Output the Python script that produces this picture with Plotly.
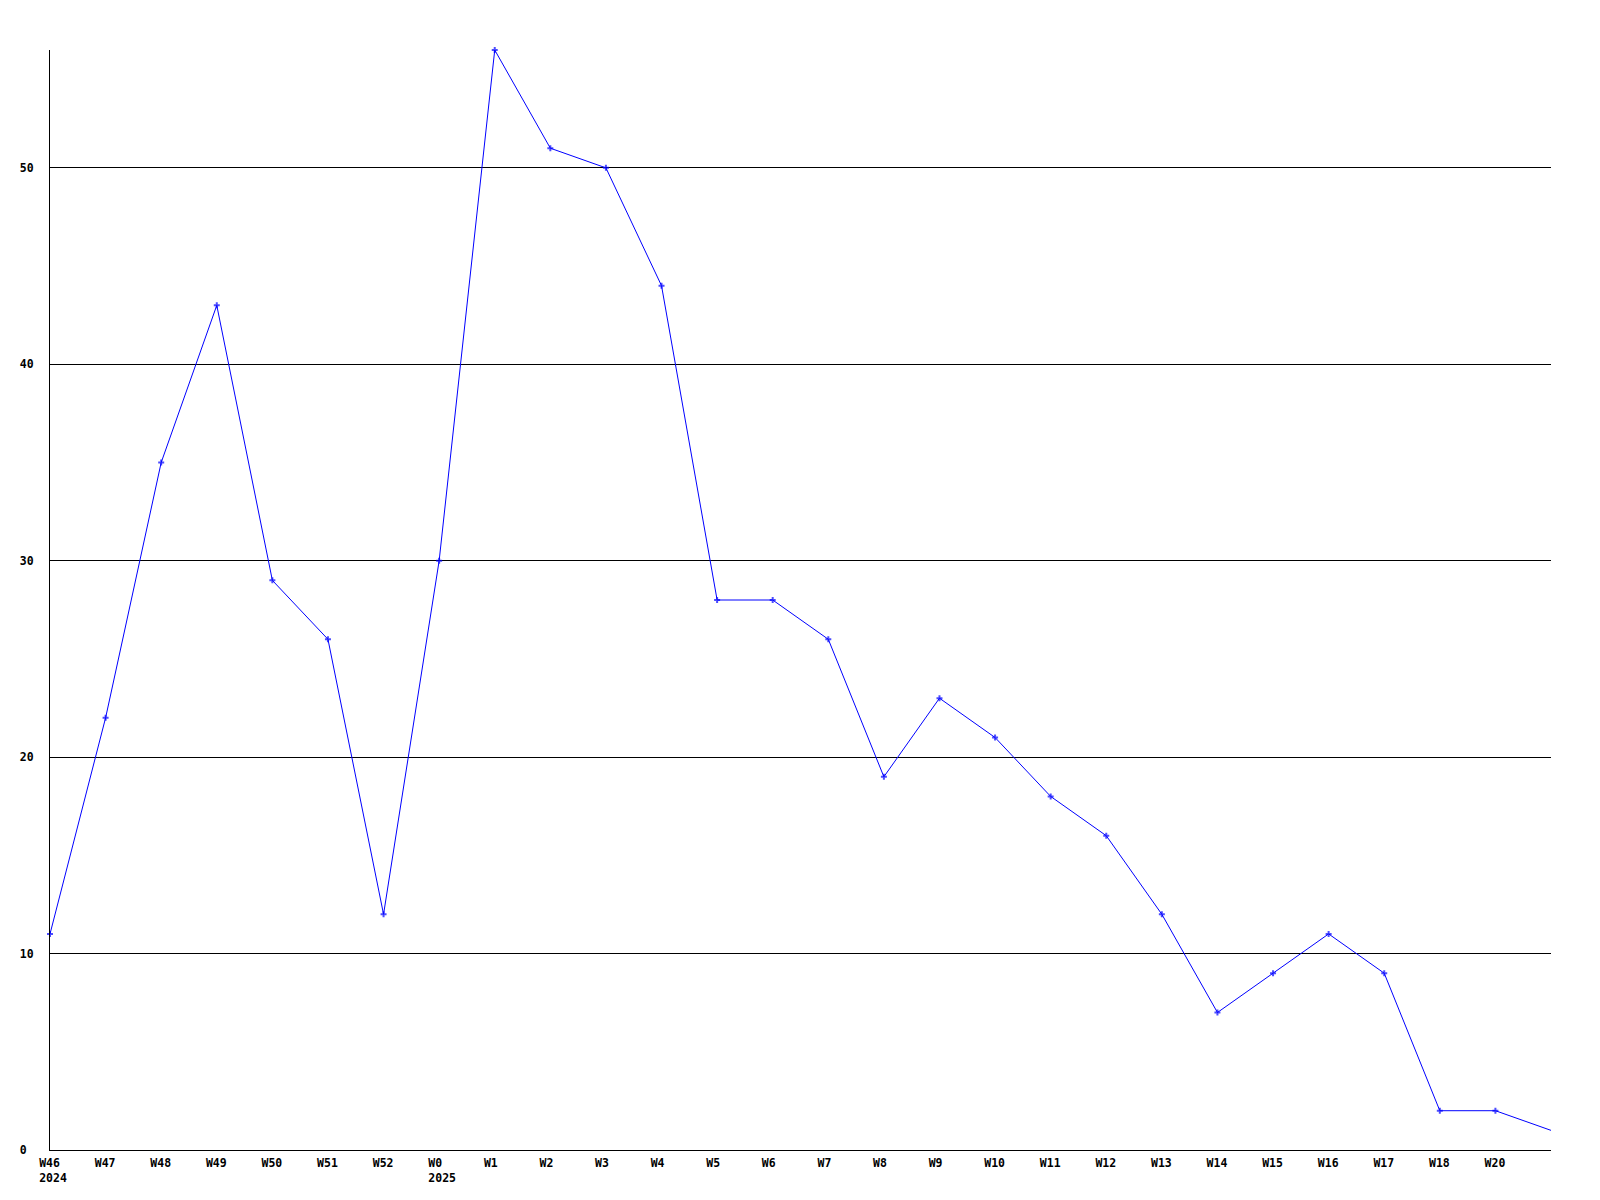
import plotly.graph_objects as go

weeks = ["W46", "W47", "W48", "W49", "W50", "W51", "W52", "W0", "W1", "W2",
         "W3", "W4", "W5", "W6", "W7", "W8", "W9", "W10", "W11", "W12",
         "W13", "W14", "W15", "W16", "W17", "W18", "W20", ""]
years = {0: "2024", 7: "2025"}
values = [11, 22, 35, 43, 29, 26, 12, 30, 56, 51,
          50, 44, 28, 28, 26, 19, 23, 21, 18, 16,
          12, 7, 9, 11, 9, 2, 2, 1]
y_ticks = [0, 10, 20, 30, 40, 50]

xs = list(range(len(values)))
NB = "\u00a0"

def pad(s, n=4):
    return s + NB * max(0, n - len(s))

def xlabel(i, w):
    if i in years:
        return pad(w) + "<br>" + pad(years[i])
    return pad(w)

ticktext = [xlabel(i, w) for i, w in enumerate(weeks)]
ytext = [pad(str(v), 2) for v in y_ticks]

# last point is drawn without a marker in the reference
msizes = [5] * (len(values) - 1) + [0]

fig = go.Figure()
fig.add_trace(go.Scatter(
    x=xs, y=values, mode="lines+markers",
    line=dict(color="#0000ff", width=1),
    marker=dict(symbol="cross", size=msizes, color="#0000ff", line=dict(width=0)),
    cliponaxis=False, showlegend=False, hoverinfo="skip"))

font = dict(family="DejaVu Sans Mono", size=11.5, color="black", weight="bold")

fig.update_layout(
    width=1600, height=1200,
    margin=dict(l=50, r=49, t=50, b=50),
    paper_bgcolor="white", plot_bgcolor="white",
    font=font,
    xaxis=dict(
        range=[0, len(values) - 1], tickmode="array", tickvals=xs,
        ticktext=ticktext, showgrid=False, zeroline=False,
        showline=True, linecolor="black", linewidth=1, ticks="",
        tickfont=font, tickangle=0, ticklabelshift=3, ticklabelstandoff=2,
    ),
    yaxis=dict(
        range=[0, 56], tickmode="array", tickvals=y_ticks, ticktext=ytext,
        showgrid=True, gridcolor="black", gridwidth=1, zeroline=False,
        showline=True, linecolor="black", linewidth=1, ticks="",
        tickfont=font, ticklabelstandoff=13,
    ),
)

fig.write_html("out.html", config={"displayModeBar": False},
               post_script="document.body.style.margin='0';")
